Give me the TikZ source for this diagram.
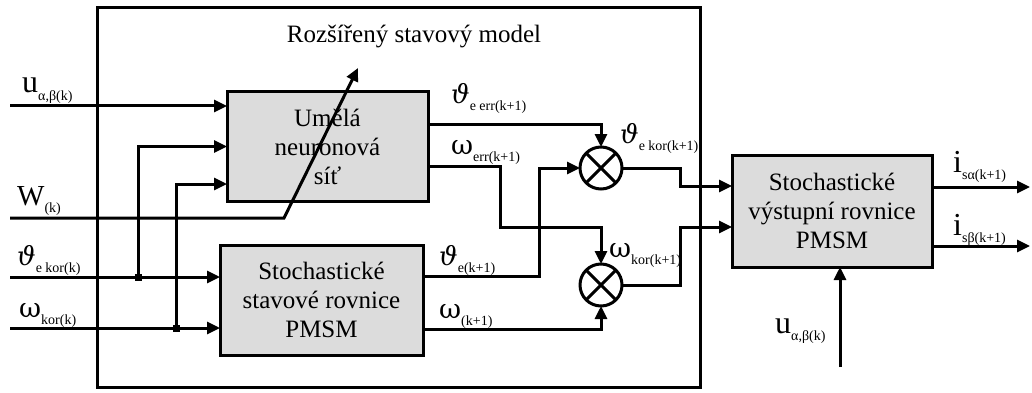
\documentclass[tikz,border=0pt]{standalone}
\usepackage{fontspec}
\setmainfont{Liberation Serif}
\newfontfamily\gk{DejaVu Serif}
\usetikzlibrary{arrows.meta}
\definecolor{boxgray}{RGB}{220,220,220}
\newcommand\lb[3]{{\fontsize{#1}{#1}\selectfont #2}\raisebox{-7pt}{\fontsize{14}{14}\selectfont #3}}
\newcommand\vth{{\gk\itshape ϑ}}
\newcommand\om{{\gk ω}}
\tikzset{
  ln/.style={line width=3pt},
  arr/.style={line width=3pt,-{Triangle[length=13pt,width=12pt]}},
  blk/.style={draw,line width=3pt,fill=boxgray,inner sep=0pt,outer sep=0pt,align=center,font=\fontsize{25}{29}\selectfont},
  comb/.style={draw,circle,line width=3pt,minimum size=42pt,inner sep=0pt,outer sep=0pt},
  jdot/.style={fill=black,rectangle,minimum size=7pt,inner sep=0pt},
  lab/.style={anchor=base west,inner sep=0pt}
}
\begin{document}
\begin{tikzpicture}[x=1pt,y=-1pt]
\useasboundingbox (0,0) rectangle (1032,393);
% outer frame
\node[draw,line width=3pt,minimum width=603pt,minimum height=379pt,inner sep=0pt] (outer) at (398.5,197.5) {};
\node[anchor=base,font=\fontsize{25}{25}\selectfont] (title) at (414,43) {Rozšířený stavový model};
% blocks
\node[blk,minimum width=201pt,minimum height=109pt] (ann) at (327.5,146.5) {Umělá\\neuronová\\síť};
\node[blk,minimum width=203pt,minimum height=110pt] (st) at (321.5,300) {Stochastické\\stavové rovnice\\PMSM};
\node[blk,minimum width=200pt,minimum height=112pt] (out) at (832,211) {Stochastické\\výstupní rovnice\\PMSM};
\node[comb] (c1) at (601,168) {};
\node[comb] (c2) at (601,285) {};
\draw[ln] (c1.north west) -- (c1.south east) (c1.north east) -- (c1.south west);
\draw[ln] (c2.north west) -- (c2.south east) (c2.north east) -- (c2.south west);
% coordinates
\coordinate (inU) at (10,106);
\coordinate (inW) at (10,218);
\coordinate (inT) at (10,277);
\coordinate (inO) at (10,328);
\coordinate (bend) at (284,218);
\coordinate (tip) at (358,68);
\coordinate (a3) at (176,184);
\coordinate (o1) at (428,124);
\coordinate (o2) at (428,166);
\coordinate (k2) at (500,227);
\coordinate (o3) at (423,276);
\coordinate (k3) at (539,168);
\coordinate (o4) at (423,329);
\coordinate (m1) at (680,168);
\coordinate (m2) at (680,285);
\coordinate (i1) at (732,186);
\coordinate (i2) at (732,227);
\coordinate (y1) at (932,187);
\coordinate (y2) at (932,246);
\coordinate (e1) at (1030,187);
\coordinate (e2) at (1030,246);
\coordinate (bu) at (840,367);
% junctions
\node[jdot] (jT) at (138,277) {};
\node[jdot] (jO) at (176,328) {};
% inputs
\draw[arr] (inU) -- (inU -| ann.west);
\draw[arr] (jT.center) |- (ann.west);
\draw[arr] (jO.center) -- (a3) -- (a3 -| ann.west);
\draw[arr] (inT) -- (inT -| st.west);
\draw[arr] (inO) -- (inO -| st.west);
\draw[arr,line join=miter] (inW) -- (bend) -- (tip);
% internal
\draw[arr] (o1) -| (c1);
\draw[arr] (o2) -| (k2) -| (c2);
\draw[arr] (o3) -| (k3) -- (c1);
\draw[arr] (o4) -| (c2);
\draw[arr] (c1) -- (m1) |- (i1);
\draw[arr] (c2) -- (m2) |- (i2);
% outputs
\draw[arr] (y1) -- (e1);
\draw[arr] (y2) -- (e2);
\draw[arr] (bu) -- (bu |- out.south);
% labels
\node[lab] (lU1) at (22,93) {\lb{32}{u}{α,β(k)}};
\node[lab] (lW) at (17,205) {\lb{29}{W}{(k)}};
\node[lab] (lT) at (17,265) {\lb{26}{\vth}{e kor(k)}};
\node[lab] (lO) at (19,317) {\lb{27}{\om}{kor(k)}};
\node[lab] (lTerr) at (451,103) {\lb{26}{\vth}{e err(k+1)}};
\node[lab] (lOerr) at (451,154) {\lb{27}{\om}{err(k+1)}};
\node[lab] (lTkor) at (620,143) {\lb{26}{\vth}{e kor(k+1)}};
\node[lab] (lOkor) at (609,257) {\lb{27}{\om}{kor(k+1)}};
\node[lab] (lTe) at (439,265) {\lb{26}{\vth}{e(k+1)}};
\node[lab] (lO1) at (439,318) {\lb{27}{\om}{(k+1)}};
\node[lab] (lIa) at (953,172) {\lb{32}{i}{sα(k+1)}};
\node[lab] (lIb) at (953,235) {\lb{32}{i}{sβ(k+1)}};
\node[lab] (lU2) at (775,333) {\lb{32}{u}{α,β(k)}};
\end{tikzpicture}
\end{document}
